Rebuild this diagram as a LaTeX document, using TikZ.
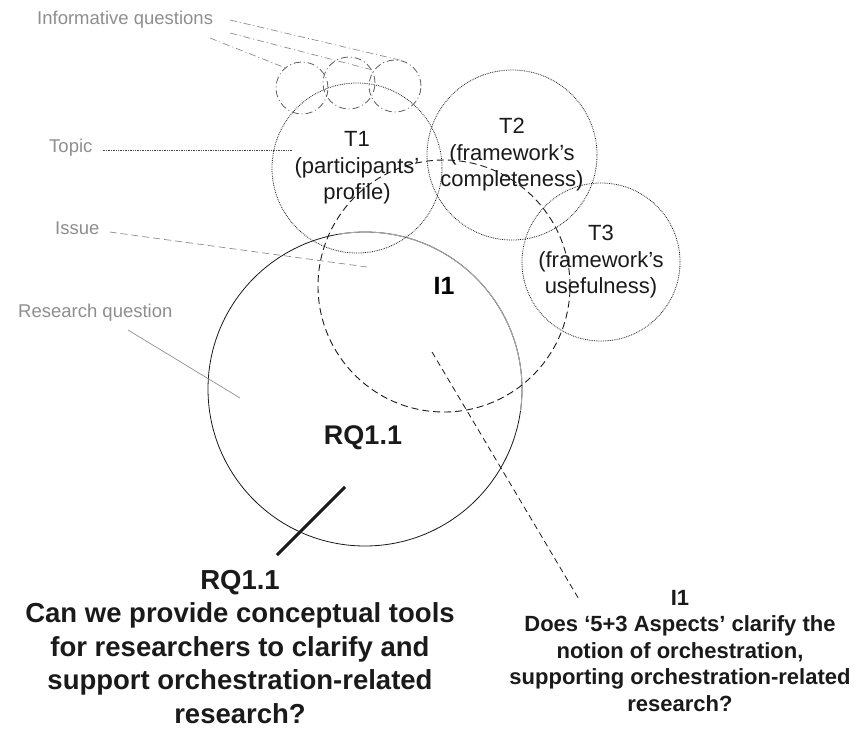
\documentclass[tikz,border=0pt]{standalone}
\usepackage{fontspec}
\setmainfont{Liberation Sans}
\usetikzlibrary{positioning}
\definecolor{ink}{HTML}{1A1A1A}
\definecolor{muted}{HTML}{8E8E8E}
\definecolor{rim}{HTML}{A8A8A8}
\tikzset{
  tagtext/.style={text=muted,font=\fontsize{18.5}{22}\selectfont,inner sep=0pt},
  topicring/.style={circle,draw=ink,densely dotted,line width=0.8pt,align=center,text=ink,
    font=\fontsize{22}{26.5}\selectfont,inner sep=0pt},
  issuering/.style={circle,draw=ink,dash pattern=on 7pt off 4pt,line width=0.9pt,
    font=\fontsize{25}{30}\selectfont\bfseries,inner sep=0pt},
  askring/.style={circle,draw=ink!70,dash pattern=on 7pt off 3pt on 1pt off 3pt,line width=0.8pt,inner sep=0pt,minimum size=52pt},
  rqring/.style={circle,draw=ink,line width=0.8pt,inner sep=0pt},
  bigq/.style={align=center,font=\fontsize{27.5}{33.5}\selectfont\bfseries,text=ink},
  smallq/.style={align=center,font=\fontsize{22}{26.5}\selectfont\bfseries,text=ink},
  tagline/.style={draw=muted,line width=0.7pt},
  askline/.style={tagline,dash pattern=on 7pt off 3pt on 1pt off 3pt}
}
\begin{document}
\begin{tikzpicture}[x=1pt,y=-1pt]
  \useasboundingbox (0,0) rectangle (856,730);

  % circles
  \node[rqring,minimum size=314pt] (rq) at (365,389) {};
  \draw[rim,line width=0.9pt] (rq.center) ++(-100:157) arc[start angle=-100,end angle=8,radius=157];
  \node[issuering,minimum size=252pt] (i1) at (444,286) {I1};
  \node[topicring,minimum size=170pt] (t1) at (357,168) {T1\\(participants’\\profile)};
  \node[topicring,minimum size=170pt] (t2) at (512,155) {T2\\(framework’s\\completeness)};
  \node[topicring,minimum size=158pt] (t3) at (601,262) {T3\\(framework’s\\usefulness)};
  \node[askring] (q1) at (302,88) {};
  \node[askring] (q2) at (349,83) {};
  \node[askring] (q3) at (395,86) {};
  \node[font=\fontsize{27}{30}\selectfont\bfseries,text=ink] (rqtag) at (363,438) {RQ1.1};

  % legend on the left
  \node[tagtext,anchor=west] (infq) at (37,20) {Informative questions};
  \node[tagtext,anchor=west] (topic) at (49,148) {Topic};
  \node[tagtext,anchor=west] (issue) at (55,228) {Issue};
  \node[tagtext,anchor=west] (resq) at (18,313) {Research question};

  \coordinate (qa) at (230,20);
  \coordinate (qb) at (230,33);
  \coordinate (qc) at (210,38);
  \draw[askline] (qa) -- (q3.80);
  \draw[askline] (qb) -- (q2.30);
  \draw[askline] (qc) -- (q1.130);
  \draw[tagline,draw=ink!80,densely dotted] (topic.east) ++(10,2) -- (292,150);
  \draw[tagline,dash pattern=on 7pt off 4pt] (issue.east) ++(10,4) -- (367,267);
  \draw[tagline] (128,330) -- (240,398);

  % questions at the bottom
  \node[bigq] (rqtext) at (240,647) {RQ1.1\\Can we provide conceptual tools\\for researchers to clarify and\\support orchestration-related\\research?};
  \node[smallq] (i1text) at (680,651) {I1\\Does ‘5+3 Aspects’ clarify the\\notion of orchestration,\\supporting orchestration-related\\research?};

  \coordinate (rqfoot) at (345,487);
  \coordinate (rqhead) at (277,555);
  \draw[ink,line width=3pt] (rqfoot) -- (rqhead);
  \coordinate (i1foot) at (432,352);
  \coordinate (i1head) at (580,601);
  \draw[ink,line width=0.8pt,dash pattern=on 6pt off 4pt] (i1foot) -- (i1head);
\end{tikzpicture}
\end{document}
